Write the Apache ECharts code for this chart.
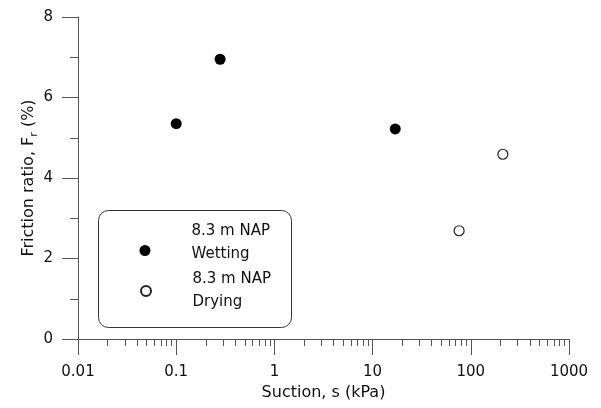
<!DOCTYPE html>
<html>
<head>
<meta charset="utf-8">
<script src="https://cdn.jsdelivr.net/npm/echarts@6/dist/echarts.min.js"></script>
<style>
  html, body { margin: 0; padding: 0; background: #fff; }
  #container_fr { width: 601px; height: 408px; }
</style>
</head>
<body>
<div id="container_fr"></div>
<script>
// data
var wetName = '8.3 m NAP\nWetting';
var dryName = '8.3 m NAP\nDrying';
var wetSuction = [0.1, 0.28, 17];
var wetFr = [5.35, 6.95, 5.22];
var drySuction = [76, 212];
var dryFr = [2.69, 4.59];
var xTickLabels = ['0.01', '0.1', '1', '10', '100', '1000'];
var yTickLabels = ['0', '2', '4', '6', '8'];
// minor ticks of the log axis (2..9 in each decade)
var minorSteps = [2, 3, 4, 5, 6, 7, 8, 9];
var decades = [0.01, 0.1, 1, 10, 100];

var font = 'DejaVu Sans';
var axisColor = '#555';
var textColor = '#111';

function pairs(xs, ys) {
  var out = [];
  for (var i = 0; i < xs.length; i++) out.push([xs[i], ys[i]]);
  return out;
}
var minorLog = [];
decades.forEach(function (d) {
  minorSteps.forEach(function (k) { minorLog.push(Math.log10(k * d)); });
});

var myChart = echarts.init(document.getElementById('container_fr'));
var option = {
  animation: false,
  grid: [
    { left: 78, right: 32, top: 17, bottom: 69 },
    { left: 78, right: 32, top: 17, bottom: 69 }   // only for log minor ticks
  ],
  xAxis: [
    {
      type: 'log', logBase: 10, min: 0.01, max: 1000, gridIndex: 0,
      name: 'Suction, s (kPa)', nameLocation: 'middle', nameGap: 42,
      nameTextStyle: { fontFamily: font, fontSize: 16, color: textColor },
      axisLine: { lineStyle: { color: axisColor, width: 1 } },
      axisTick: { length: 16, lineStyle: { color: axisColor } },
      axisLabel: {
        margin: 26, fontFamily: font, fontSize: 15, color: textColor,
        formatter: function (v) {
          var i = Math.round(Math.log10(v)) + 2;
          return xTickLabels[i];
        }
      },
      splitLine: { show: false }
    },
    {
      type: 'value', min: -2, max: 3, gridIndex: 1,
      axisLine: { show: false },
      axisLabel: { show: false },
      axisTick: { length: 7, customValues: minorLog, lineStyle: { color: axisColor } },
      splitLine: { show: false }
    }
  ],
  yAxis: [
    {
      type: 'value', min: 0, max: 8, interval: 2, gridIndex: 0,
      name: '{a|Friction ratio, F}{s|r}{a| (%)}', nameLocation: 'middle', nameGap: 38,
      nameMoveOverlap: false,
      nameTextStyle: {
        fontFamily: font, fontSize: 16, color: textColor,
        rich: {
          a: { fontFamily: font, fontSize: 16, color: textColor, lineHeight: 22, verticalAlign: 'middle' },
          s: { fontFamily: font, fontSize: 11, color: textColor, lineHeight: 11, verticalAlign: 'bottom' }
        }
      },
      axisLine: { show: true, lineStyle: { color: axisColor, width: 1 } },
      axisTick: { show: true, length: 16, lineStyle: { color: axisColor } },
      minorTick: { show: true, splitNumber: 2, length: 8, lineStyle: { color: axisColor } },
      axisLabel: {
        margin: 25, fontFamily: font, fontSize: 15, color: textColor,
        formatter: function (v) { return yTickLabels[Math.round(v / 2)]; }
      },
      splitLine: { show: false }
    },
    {
      type: 'value', min: 0, max: 8, gridIndex: 1, show: false
    }
  ],
  legend: [
    {
      data: [wetName], orient: 'vertical', left: 139.5, top: 220, padding: 0,
      itemWidth: 11, itemHeight: 11,
      formatter: function (name) { return name + '\n{sp| }'; },
      textStyle: {
        fontFamily: font, fontSize: 15, color: textColor, lineHeight: 23, padding: [0, 0, 0, 36],
        rich: { sp: { fontSize: 1, lineHeight: 15 } }
      }
    },
    {
      data: [dryName], orient: 'vertical', left: 140, top: 268, padding: 0,
      itemWidth: 10, itemHeight: 10,
      textStyle: { fontFamily: font, fontSize: 15, color: textColor, lineHeight: 23, padding: [0, 0, 0, 36.5] }
    }
  ],
  graphic: [
    {
      type: 'rect', z: 1,
      shape: { x: 98.5, y: 210.5, width: 193, height: 117, r: 10 },
      style: { fill: '#fff', stroke: '#333', lineWidth: 1 }
    }
  ],
  series: [
    {
      name: wetName, type: 'scatter', xAxisIndex: 0, yAxisIndex: 0,
      symbol: 'circle', symbolSize: 11,
      itemStyle: { color: '#000', opacity: 1 },
      data: pairs(wetSuction, wetFr)
    },
    {
      name: dryName, type: 'scatter', xAxisIndex: 0, yAxisIndex: 0,
      symbol: 'circle', symbolSize: 10,
      itemStyle: { color: '#fff', borderColor: '#222', borderWidth: 1.2, opacity: 1 },
      data: pairs(drySuction, dryFr)
    }
  ]
};
myChart.setOption(option);
window.onresize = myChart.resize;
</script>
</body>
</html>
